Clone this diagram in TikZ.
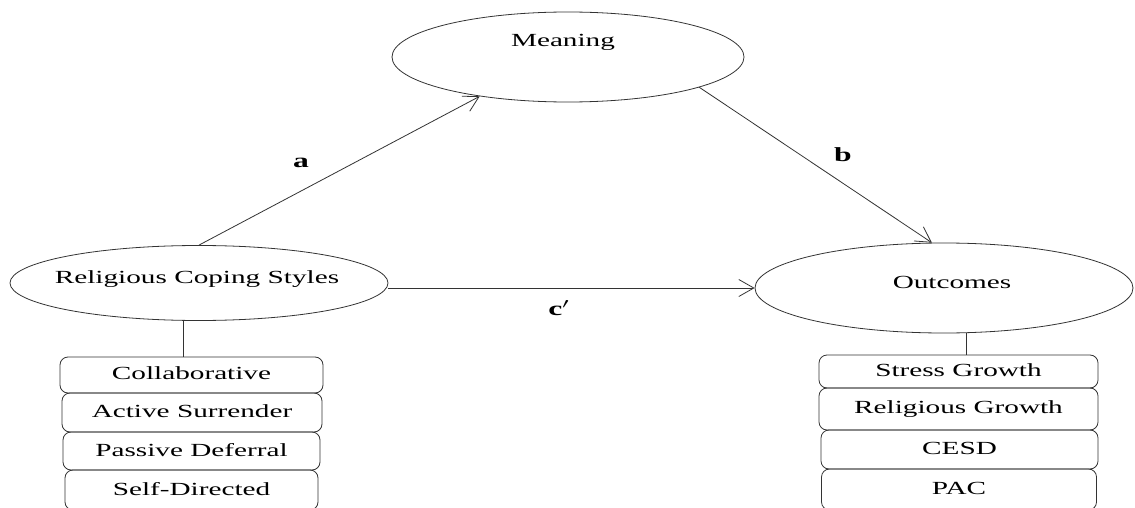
\documentclass[tikz,border=0pt]{standalone}
\usepackage{fontspec}
\setmainfont{Liberation Serif}
\usetikzlibrary{shapes.geometric,arrows.meta,calc}
\newcommand{\wide}[1]{\scalebox{1.58}[1]{#1}}
\tikzset{
  line/.style={draw=black!80, line width=0.8pt},
  oval/.style={line, ellipse, inner sep=0pt},
  txt/.style={inner sep=0pt, font=\fontsize{18.5}{20}\selectfont},
  lbl/.style={inner sep=0pt, font=\fontsize{20}{22}\selectfont\bfseries},
  item/.style={line, rounded corners=8pt, inner sep=0pt, font=\fontsize{18.5}{20}\selectfont},
  arr/.style={line, -{Straight Barb[length=15pt,width=17pt,line width=0.8pt]}}
}
\begin{document}
\begin{tikzpicture}[x=1pt,y=-1pt]
\path[use as bounding box, fill=white] (0,0) rectangle (1135,508);

% latent constructs
\node[oval, minimum width=352pt, minimum height=90pt] (mean) at (568,57) {};
\node[oval, minimum width=378pt, minimum height=75pt] (rel) at (199,283) {};
\node[oval, minimum width=378pt, minimum height=90pt] (out) at (944,288) {};
\node[txt] (meantxt) at (563,42) {\wide{Meaning}};
\node[txt] (reltxt) at (197,279) {\wide{Religious Coping Styles}};
\node[txt] (outtxt) at (952,282) {\wide{Outcomes}};

% coping style indicators
\node[item, minimum width=263pt, minimum height=36pt] (c1) at (191.5,375) {\raisebox{3pt}{\wide{Collaborative}}};
\node[item, minimum width=260pt, minimum height=39pt] (c2) at (192,412.5) {\raisebox{3pt}{\wide{Active Surrender}}};
\node[item, minimum width=257pt, minimum height=38pt] (c3) at (191.5,451) {\raisebox{3pt}{\wide{Passive Deferral}}};
\node[item, minimum width=253pt, minimum height=40pt] (c4) at (191.5,490) {\raisebox{2pt}{\wide{Self-Directed}}};

% outcome indicators
\node[item, minimum width=279pt, minimum height=33pt] (o1) at (958.5,371.5) {\raisebox{2pt}{\wide{Stress Growth}}};
\node[item, minimum width=279pt, minimum height=42pt] (o2) at (958.5,409) {\raisebox{2pt}{\wide{Religious Growth}}};
\node[item, minimum width=277pt, minimum height=39pt] (o3) at (959.5,449.5) {\raisebox{3pt}{\wide{CESD}}};
\node[item, minimum width=275pt, minimum height=41pt] (o4) at (959,489.5) {\raisebox{3pt}{\wide{PAC}}};

% links from constructs to their indicators
\draw[line] ([xshift=-8pt]c1.north) -- ([xshift=-8pt]c1.north |- rel.south);
\draw[line] ([xshift=8pt]o1.north) -- ([xshift=8pt]o1.north |- out.south);

% mediation paths
\draw[arr] (rel.north) -- (mean.204);
\draw[arr] (mean.347) -- (out.105);
\draw[arr] (rel.east |- out.west) -- (out.west);

% path labels
\node[lbl] (la) at (301,163) {\wide{a}};
\node[lbl] (lb) at (843,155) {\wide{b}};
\node[lbl] (lc) at (559,308) {\wide{c$'$}};
\end{tikzpicture}
\end{document}
